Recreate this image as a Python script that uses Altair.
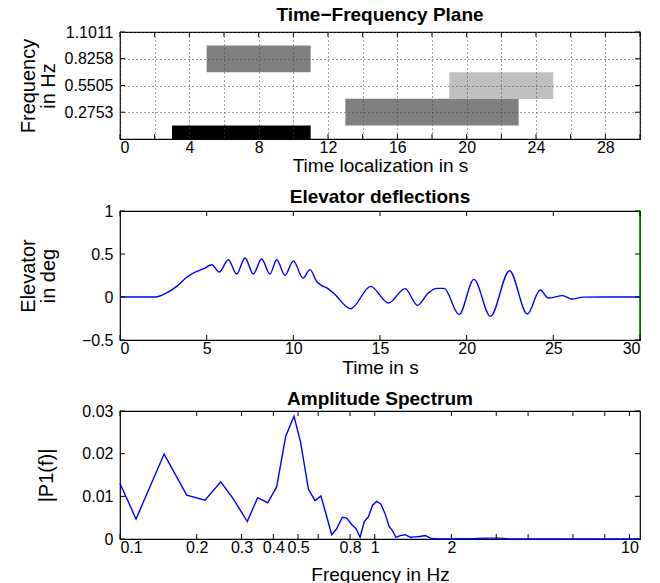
import altair as alt
import pandas as pd

# ---------------- data ----------------
# Time-frequency plane (atoms)
tf_t0 = [3, 5, 13, 19]
tf_t1 = [11, 11, 23, 25]
tf_fc = [0.0, 0.8258, 0.2753, 0.5505]
tf_half = 0.13765
tf_shade = ["#000000", "#808080", "#808080", "#c0c0c0"]
tf_yticks = [0.2753, 0.5505, 0.8258, 1.1011]
tf_xticks = [0, 2, 4, 6, 8, 10, 12, 14, 16, 18, 20, 22, 24, 26, 28, 30]

# Elevator deflection
el_t = [0, 1, 2.02, 2.69, 3.27, 3.85, 4.33, 4.81, 5.29, 5.73, 6.25, 6.73, 7.21, 7.69,
        8.17, 8.65, 9.04, 9.52, 10.0, 10.56, 10.96, 11.35, 11.64, 11.93, 12.31, 13.31,
        14.46, 15.48, 16.45, 17.16, 17.79, 18.27, 18.7, 19.56, 20.42, 21.37, 22.47,
        23.5, 24.24, 24.72, 25.54, 26.06, 26.74, 28, 30]
el_v = [0, 0, 0, 0.047, 0.124, 0.229, 0.29, 0.326, 0.375, 0.29, 0.434, 0.267, 0.453, 0.267,
        0.442, 0.267, 0.434, 0.252, 0.42, 0.22, 0.318, 0.18, 0.132, 0.105, 0.047, -0.136,
        0.124, -0.07, 0.097, -0.097, 0.047, 0.1, 0.1, -0.205, 0.205, -0.225, 0.306,
        -0.198, 0.081, -0.012, 0.016, -0.023, -0.002, 0, 0]
el_xticks = [0, 5, 10, 15, 20, 25, 30]
el_yticks = [-0.5, 0, 0.5, 1]

# Amplitude spectrum
sp_f = [0.1, 0.1156, 0.149, 0.1828, 0.2157, 0.2485, 0.2786, 0.316, 0.347, 0.380, 0.412,
        0.4473, 0.482, 0.512, 0.549, 0.583, 0.615, 0.678, 0.709, 0.746, 0.776, 0.812,
        0.845, 0.876, 0.91, 0.944, 0.982, 1.018, 1.056, 1.097, 1.14, 1.17, 1.212, 1.26,
        1.315, 1.38, 1.44, 1.50, 1.58, 1.67, 1.80, 2.5, 2.8, 3.1, 3.4, 5, 8, 11]
sp_a = [0.0130, 0.0047, 0.0199, 0.0103, 0.0091, 0.0134, 0.0094, 0.0041, 0.0097, 0.0085,
        0.0122, 0.0241, 0.0288, 0.0226, 0.0117, 0.0090, 0.0101, 0.0010, 0.0024, 0.0051,
        0.0049, 0.0034, 0.0024, 0.0004, 0.0041, 0.0052, 0.0080, 0.0088, 0.0082, 0.0060,
        0.0029, 0.0021, 0.0004, 0.0008, 0.0010, 0.0004, 0.0005, 0.0006, 0.0008, 0.0001,
        0.0, 0.0001, 0.0002, 0.0002, 0.0, 0.0, 0.0, 0.0]
sp_xticks = [0.1, 0.2, 0.3, 0.4, 0.5, 0.6, 0.8, 1, 2, 3, 4, 6, 8, 10]
sp_labels = [0.1, 0.2, 0.3, 0.4, 0.5, 0.8, 1, 2, 10]
sp_yticks = [0, 0.01, 0.02, 0.03]

# ---------------- style ----------------
FONT = "Liberation Sans"
W = 520
LAB = 16
TIT = 19
YTIT = 20
HEAD = 19
TL = 5  # inner tick length

bars = pd.DataFrame({
    "t0": tf_t0, "t1": tf_t1,
    "f0": [max(0.0, c - tf_half) for c in tf_fc],
    "f1": [c + tf_half for c in tf_fc],
    "shade": tf_shade,
})
elev = pd.DataFrame({"t": el_t, "v": el_v})
spec = pd.DataFrame({"f": sp_f, "a": sp_a})


def x_axis(title, values, title_y, label_expr=None, fmt=None, grid=False):
    kw = dict(values=values, title=title, ticks=False, domain=False, grid=grid,
              labelFontSize=LAB, labelPadding=0, titleFontSize=TIT,
              titleFontWeight="normal", titleY=title_y, titleBaseline="middle")
    if grid:
        kw.update(gridDash=[1, 3], gridColor="#444444", gridWidth=1, zindex=1)
    if label_expr:
        kw["labelExpr"] = label_expr
    if fmt:
        kw["format"] = fmt
    return alt.Axis(**kw)


def y_axis(title, values, h, title_x, fmt="~g", grid=False):
    kw = dict(values=values, title=title, ticks=False, domain=False, grid=grid,
              labelFontSize=LAB, labelPadding=7, titleFontSize=YTIT,
              titleFontWeight="normal", titleX=title_x, titleY=h / 2,
              titleAngle=270, titleBaseline="middle", titleAlign="center",
              titleLineHeight=20, format=fmt)
    if grid:
        kw.update(gridDash=[1, 3], gridColor="#444444", gridWidth=1, zindex=1)
    return alt.Axis(**kw)


def inner_ticks(xvals, yvals, xscale, yscale, xax, yax, h):
    xt = pd.DataFrame({"x": xvals})
    yt = pd.DataFrame({"y": yvals})
    base_x = alt.Chart(xt).mark_rule(color="black", strokeWidth=1)
    base_y = alt.Chart(yt).mark_rule(color="black", strokeWidth=1)
    xe = alt.X("x:Q", scale=xscale, axis=xax)
    ye = alt.Y("y:Q", scale=yscale, axis=yax)
    return [
        base_x.encode(x=xe, y=alt.value(h), y2=alt.value(h - TL)),
        base_x.encode(x=xe, y=alt.value(0), y2=alt.value(TL)),
        base_y.encode(y=ye, x=alt.value(0), x2=alt.value(TL)),
        base_y.encode(y=ye, x=alt.value(W), x2=alt.value(W - TL)),
    ]


def head(text, off):
    return alt.TitleParams(text, fontSize=HEAD, fontWeight="bold", font=FONT,
                           offset=off, frame="group", anchor="middle")


# ---------------- top: time-frequency plane ----------------
H1 = 107
xs1 = alt.Scale(domain=[0, 30], nice=False)
ys1 = alt.Scale(domain=[0, 1.1011], nice=False)
ax1 = x_axis("Time localization in s", tf_xticks, 26,
             label_expr="datum.value % 4 == 0 && datum.value < 30 ? datum.label : ''", grid=True)
ay1 = y_axis(["Frequency", "in Hz"], tf_yticks, H1, -92, fmt=".4f", grid=True)
rects = alt.Chart(bars).mark_rect().encode(
    x=alt.X("t0:Q", scale=xs1, axis=ax1),
    x2="t1:Q",
    y=alt.Y("f0:Q", scale=ys1, axis=ay1),
    y2="f1:Q",
    color=alt.Color("shade:N", scale=None),
)
top = alt.layer(rects, *inner_ticks(tf_xticks, tf_yticks, xs1, ys1, ax1, ay1, H1)).properties(
    width=W, height=H1, title=head("Time\u2212Frequency Plane", -1))

# ---------------- middle: elevator deflections ----------------
H2 = 129
xs2 = alt.Scale(domain=[0, 30], nice=False)
ys2 = alt.Scale(domain=[-0.5, 1], nice=False)
ax2 = x_axis("Time in s", el_xticks, 27)
ay2 = y_axis(["Elevator", "in deg"], el_yticks, H2, -92)
line2 = alt.Chart(elev).mark_line(color="#0000ff", strokeWidth=1.4, interpolate="monotone").encode(
    x=alt.X("t:Q", scale=xs2, axis=ax2),
    y=alt.Y("v:Q", scale=ys2, axis=ay2),
)
green = alt.Chart(pd.DataFrame({"t": [30], "lo": [-0.5], "hi": [1]})).mark_rule(
    color="#008000", strokeWidth=1.5).encode(
    x=alt.X("t:Q", scale=xs2, axis=ax2), y=alt.Y("lo:Q", scale=ys2, axis=ay2), y2="hi:Q")
mid = alt.layer(line2, green, *inner_ticks(el_xticks, el_yticks, xs2, ys2, ax2, ay2, H2)).properties(
    width=W, height=H2, title=head("Elevator deflections", -4))

# ---------------- bottom: amplitude spectrum ----------------
H3 = 128
xs3 = alt.Scale(type="log", domain=[0.1, 11], nice=False)
ys3 = alt.Scale(domain=[0, 0.03], nice=False)
lab_list = "[" + ",".join(str(v) for v in sp_labels) + "]"
ax3 = x_axis("Frequency in Hz", sp_xticks, 35,
             label_expr="indexof(" + lab_list + ", datum.value) >= 0 ? datum.label : ''", fmt="~g")
ay3 = y_axis("|P1(f)|", sp_yticks, H3, -74)
line3 = alt.Chart(spec).mark_line(color="#0000ff", strokeWidth=1.4).encode(
    x=alt.X("f:Q", scale=xs3, axis=ax3),
    y=alt.Y("a:Q", scale=ys3, axis=ay3),
)
bot = alt.layer(line3, *inner_ticks(sp_xticks, sp_yticks, xs3, ys3, ax3, ay3, H3)).properties(
    width=W, height=H3, title=head("Amplitude Spectrum", -6))

chart = alt.vconcat(top, mid, bot, spacing=11).configure(
    font=FONT, background="white",
    padding={"left": 17, "top": 5, "right": 10, "bottom": 5},
).configure_view(stroke="black", strokeWidth=1.2).configure_axis(
    labelFont=FONT, titleFont=FONT, labelColor="black", titleColor="black"
).configure_title(color="black")

chart.save("out.html", embed_options={"renderer": "svg", "actions": False})
